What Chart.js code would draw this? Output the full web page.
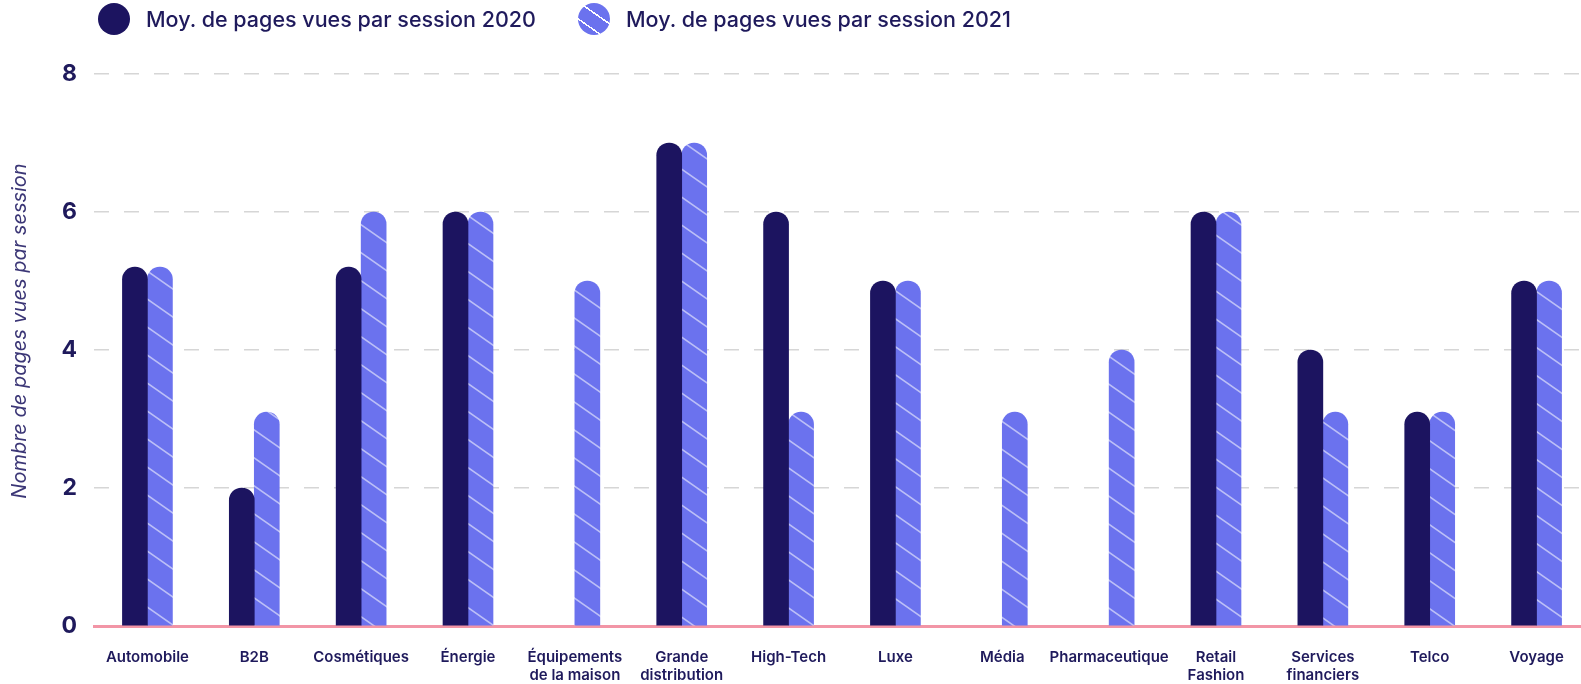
<!DOCTYPE html>
<html lang="fr">
<head>
<meta charset="utf-8">
<script src="https://cdn.jsdelivr.net/npm/chart.js@4.4.1/dist/chart.umd.min.js"></script>
<style>
  html, body { margin: 0; padding: 0; background: #fff; overflow: hidden; }
  .wrap { position: relative; width: 1600px; height: 684px; }
  .legend { position: absolute; left: 98px; top: 3px; display: flex; align-items: center;
            font-family: Inter, "Open Sans", sans-serif; font-size: 21.5px; font-weight: 500; color: #1f1a5c; }
  .legend .item { display: flex; align-items: center; margin-right: 42px; }
  .legend .dot { width: 32px; height: 32px; border-radius: 50%; margin-right: 16px; }
  .legend .d2020 { background: #1c1460; }
  .legend .d2021 { background: repeating-linear-gradient(35deg, #6b72ee 0 12.5px, rgba(255,255,255,0.6) 12.5px 14px); }
</style>
</head>
<body>
<div class="wrap">
  <div class="legend">
    <div class="item"><span class="dot d2020"></span>Moy. de pages vues par session 2020</div>
    <div class="item"><span class="dot d2021"></span>Moy. de pages vues par session 2021</div>
  </div>
  <canvas id="barChart" width="1600" height="684"></canvas>
</div>
<script>
const categories = [
  'Automobile', 'B2B', 'Cosmétiques', 'Énergie', ['Équipements', 'de la maison'],
  ['Grande', 'distribution'], 'High-Tech', 'Luxe', 'Média', 'Pharmaceutique',
  ['Retail', 'Fashion'], ['Services', 'financiers'], 'Telco', 'Voyage'
];
const pages2020 = [5.2, 2, 5.2, 6, null, 7, 6, 5, null, null, 6, 4, 3.1, 5];
const pages2021 = [5.2, 3.1, 6, 6, 5, 7, 3.1, 5, 3.1, 4, 6, 3.1, 3.1, 5];
const yTicks = [0, 2, 4, 6, 8];
const yTitle = 'Nombre de pages vues par session';

const navy = '#1c1460';
const blue = '#6b72ee';
const textColor = '#1f1a5c';

// Diagonal stripes for the 2021 bars.
function stripePattern() {
    const w = 40, h = 28;
    const c = document.createElement('canvas');
    c.width = w; c.height = h;
    const g = c.getContext('2d');
    g.fillStyle = blue;
    g.fillRect(0, 0, w, h);
    g.strokeStyle = 'rgba(255,255,255,0.55)';
    g.lineWidth = 1.6;
    for (let k = -1; k <= 1; k++) {
        g.beginPath();
        g.moveTo(-5, -3.5 + k * h);
        g.lineTo(w + 5, h + 3.5 + k * h);
        g.stroke();
    }
    return g.createPattern(c, 'repeat');
}

// Vertical axis title, a bit above the middle of the plot.
const axisTitle = {
    id: 'axisTitle',
    afterDraw(chart) {
        const c = chart.ctx;
        c.save();
        c.translate(20, 331);
        c.rotate(-Math.PI / 2);
        c.font = 'italic 400 20px Inter';
        c.fillStyle = '#3b3676';
        c.textAlign = 'center';
        c.textBaseline = 'middle';
        c.fillText(yTitle, 0, 0);
        c.restore();
    }
};

const ctx = document.getElementById('barChart').getContext('2d');
const topRound = { topLeft: 13, topRight: 13, bottomLeft: 0, bottomRight: 0 };

new Chart(ctx, {
    type: 'bar',
    data: {
        labels: categories,
        datasets: [{
            label: 'Moy. de pages vues par session 2020',
            data: pages2020,
            backgroundColor: navy,
            borderRadius: topRound,
            borderSkipped: false,
            barThickness: 25
        }, {
            label: 'Moy. de pages vues par session 2021',
            data: pages2021,
            backgroundColor: stripePattern(),
            borderRadius: topRound,
            borderSkipped: false,
            barThickness: 25
        }]
    },
    options: {
        responsive: false,
        animation: false,
        events: [],
        layout: { padding: { top: 74, right: 10, left: 0, bottom: 0 } },
        plugins: {
            legend: { display: false },
            tooltip: { enabled: false }
        },
        scales: {
            x: {
                afterFit: (scale) => { scale.height = 58; },
                grid: { display: false },
                border: { display: true, color: '#f295a6', width: 3 },
                ticks: {
                    color: textColor,
                    padding: 14,
                    maxRotation: 0,
                    autoSkip: false,
                    font: { family: 'Inter', size: 15, weight: 600, lineHeight: 1.2 }
                }
            },
            y: {
                min: 0,
                max: 8,
                afterBuildTicks: (scale) => { scale.ticks = yTicks.map(v => ({ value: v })); },
                afterFit: (scale) => { scale.width = 94; },
                grid: { color: '#d6d6d6', lineWidth: 1.5, drawTicks: false },
                border: { display: false, dash: [15, 15] },
                ticks: {
                    color: textColor,
                    padding: 17,
                    font: { family: 'Inter', size: 23, weight: 700 }
                }
            }
        }
    },
    plugins: [axisTitle]
});
</script>
</body>
</html>
